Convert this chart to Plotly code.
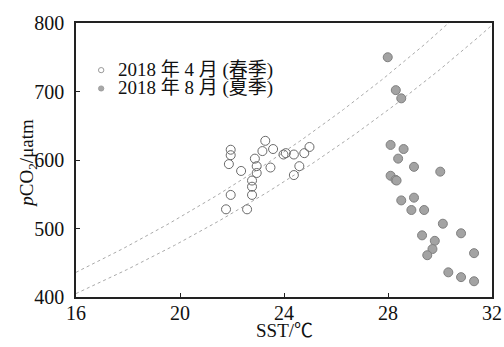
import numpy as np
import plotly.graph_objects as go

# Spring (April 2018) observations: SST (°C), pCO2 (µatm)
spring_sst = [21.77, 22.58, 21.88, 21.95, 21.95, 21.95, 22.35, 22.77, 22.77, 22.77,
              22.88, 22.95, 22.95, 23.17, 23.28, 23.48, 23.58, 23.98, 24.07, 24.38,
              24.38, 24.59, 24.78, 24.98]
spring_pco2 = [528, 528, 594, 615, 607, 549, 584, 549, 561, 570,
               602, 591, 581, 613, 628, 589, 616, 608, 610, 608,
               578, 591, 610, 619]

# Summer (August 2018) observations
summer_sst = [27.99, 28.30, 28.51, 28.10, 28.60, 28.39, 29.00, 30.01, 28.10, 28.29,
              28.33, 28.51, 29.00, 28.90, 29.39, 30.11, 29.31, 30.81, 29.80, 29.71,
              29.51, 31.31, 30.32, 30.81, 31.31]
summer_pco2 = [750, 702, 690, 622, 616, 602, 590, 583, 577, 571,
               570, 541, 545, 527, 527, 507, 490, 493, 482, 470,
               461, 464, 436, 429, 423]

# Isochemical reference curves: pCO2 = base * exp(0.0423 * (T - 16))
curve_bases = [436, 405]
curve_coef = 0.0423
curve_t0 = 16

x_ticks = [16, 20, 24, 28, 32]
y_ticks = [400, 500, 600, 700, 800]
legend_names = ["2018 年 4 月 (春季)", "2018 年 8 月 (夏季)"]
x_title = "SST/℃"
y_title = "<i>p</i>CO<sub>2</sub>/μatm"

FONT = "Liberation Serif, Times New Roman, Noto Sans CJK SC, serif"
TXT = "#111111"

fig = go.Figure()

t = np.linspace(16, 32, 200)
for b in curve_bases:
    fig.add_trace(go.Scatter(x=t, y=b * np.exp(curve_coef * (t - curve_t0)), mode="lines",
                             line=dict(color="#aaaaaa", width=1, dash="3px,3px"),
                             showlegend=False, hoverinfo="skip"))

fig.add_trace(go.Scatter(x=spring_sst, y=spring_pco2, mode="markers", showlegend=False,
                         name=legend_names[0],
                         marker=dict(symbol="circle-open", size=9, color="#6a6a6a",
                                     line=dict(width=1))))
fig.add_trace(go.Scatter(x=summer_sst, y=summer_pco2, mode="markers", showlegend=False,
                         name=legend_names[1],
                         marker=dict(symbol="circle", size=9, color="#a3a3a3",
                                     line=dict(width=1, color="#808080"))))

axis_common = dict(showline=True, linecolor="#222222", linewidth=1.5, mirror=True,
                   ticks="inside", ticklen=4, tickwidth=1.2, tickcolor="#222222",
                   showgrid=False, zeroline=False, automargin=False,
                   tickfont=dict(family=FONT, size=20, color=TXT))

fig.update_xaxes(range=[16, 32], tickvals=x_ticks, ticktext=[str(v) for v in x_ticks],
                 ticklabelstandoff=-3, **axis_common)
fig.update_yaxes(range=[400, 800], tickvals=y_ticks, ticktext=[str(v) for v in y_ticks],
                 ticklabelstandoff=6, **axis_common)

# axis titles
fig.add_annotation(text=x_title, xref="paper", yref="paper", x=0.5, y=-0.124,
                   xanchor="center", yanchor="middle", showarrow=False,
                   font=dict(family=FONT, size=19, color=TXT))
fig.add_annotation(text=y_title, xref="paper", yref="paper", x=-0.1155, y=0.49,
                   xanchor="center", yanchor="middle", textangle=-90, showarrow=False,
                   font=dict(family=FONT, size=19, color=TXT))

# legend drawn as annotations + small symbols in paper coordinates
leg_y = [0.828, 0.761]
leg_sym_x = 0.0605
fig.add_shape(type="circle", xref="paper", yref="paper",
              x0=leg_sym_x - 0.0065, x1=leg_sym_x + 0.0065,
              y0=leg_y[0] - 0.0095, y1=leg_y[0] + 0.0095,
              line=dict(color="#999999", width=1), fillcolor="white")
fig.add_shape(type="circle", xref="paper", yref="paper",
              x0=leg_sym_x - 0.0065, x1=leg_sym_x + 0.0065,
              y0=leg_y[1] - 0.0095, y1=leg_y[1] + 0.0095,
              line=dict(color="#999999", width=0.8), fillcolor="#a8a8a8")
for name, yy in zip(legend_names, leg_y):
    fig.add_annotation(text=name, xref="paper", yref="paper", x=0.096, y=yy,
                       xanchor="left", yanchor="middle", showarrow=False,
                       font=dict(family=FONT, size=19, color=TXT))

fig.update_layout(
    width=504, height=347,
    margin=dict(l=76, r=12, t=23, b=50),
    paper_bgcolor="white", plot_bgcolor="white",
    font=dict(family=FONT, size=19, color=TXT),
    showlegend=False,
)

fig.write_html("out.html")
